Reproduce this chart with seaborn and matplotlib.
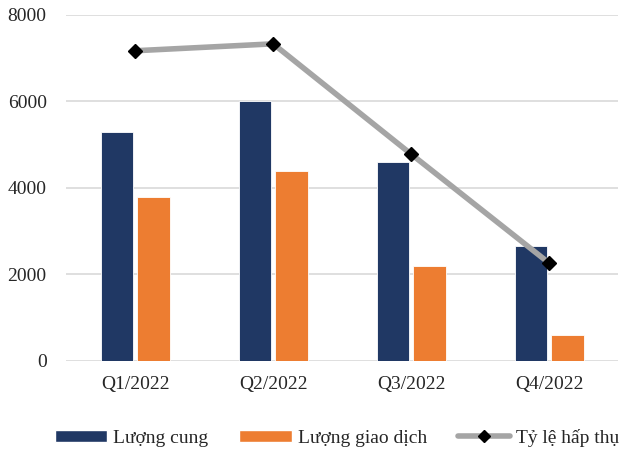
import matplotlib
matplotlib.use("Agg")
import matplotlib.pyplot as plt
import numpy as np
import pandas as pd
import seaborn as sns
from matplotlib.patches import Patch
from matplotlib.lines import Line2D

# data
quarters = ["Q1/2022", "Q2/2022", "Q3/2022", "Q4/2022"]
supply = [5300, 6000, 4600, 2650]
transactions = [3800, 4400, 2200, 600]
absorption = [0.717, 0.733, 0.478, 0.226]
yticks = [0, 2000, 4000, 6000, 8000]

series_names = ["Lượng cung", "Lượng giao dịch"]
line_name = "Tỷ lệ hấp thụ"
colors = ["#203864", "#ED7D31"]

sns.set_theme(style="white")
plt.rcParams["font.family"] = ["Liberation Serif", "DejaVu Serif"]

df = pd.DataFrame({
    "quarter": quarters * 2,
    "value": supply + transactions,
    "series": [series_names[0]] * 4 + [series_names[1]] * 4,
})

fig, ax = plt.subplots(figsize=(6.36, 4.5), dpi=100)
fig.subplots_adjust(left=0.104, right=0.972, top=0.967, bottom=0.198)

sns.barplot(data=df, x="quarter", y="value", hue="series", palette=colors,
            width=0.53, gap=0.12, ax=ax, legend=False, saturation=1,
            linewidth=0.6)

ax.set_ylim(0, 8000)
ax.set_yticks(yticks)
ax.set_xlim(-0.5, 3.5)
ax.yaxis.grid(True, color="#d9d9d9", linewidth=1.2)
ax.set_axisbelow(True)
for s in ax.spines.values():
    s.set_visible(False)
ax.tick_params(axis="both", length=0, labelsize=14, colors="#262626")
ax.tick_params(axis="x", pad=11)
ax.tick_params(axis="y", pad=14)
ax.set_xlabel("")
ax.set_ylabel("")

# absorption rate on a hidden secondary axis
ax2 = ax.twinx()
ax2.plot(quarters, absorption, color="#A5A5A5", linewidth=4, marker="D",
         markersize=7, markerfacecolor="black", markeredgecolor="black",
         solid_capstyle="round")
ax2.set_ylim(0, 0.8)
ax2.set_yticks([])
for s in ax2.spines.values():
    s.set_visible(False)

handles = [
    Patch(facecolor=colors[0], label=series_names[0]),
    Patch(facecolor=colors[1], label=series_names[1]),
    Line2D([0], [0], color="#A5A5A5", linewidth=4, marker="D", markersize=6,
           markerfacecolor="black", markeredgecolor="black", label=line_name),
]
fig.legend(handles=handles, loc="lower center", ncol=3, frameon=False,
           fontsize=14, handlelength=2.7, handleheight=0.6, columnspacing=1.6,
           handletextpad=0.3, bbox_to_anchor=(0.53, -0.032))

fig.savefig("out.png", dpi=100)
